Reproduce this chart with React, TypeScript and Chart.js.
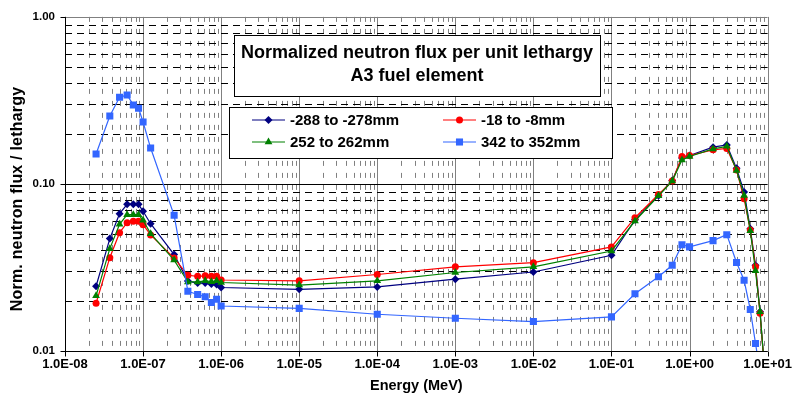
import React, { useEffect, useRef } from 'react';
import { Chart, registerables } from 'chart.js';

Chart.register(...registerables);

// Energy group points (MeV)
const energies = [
  2.5e-8, 3.75e-8, 5e-8, 6.25e-8, 7.5e-8, 8.75e-8, 1e-7, 1.25e-7, 2.5e-7, 3.75e-7,
  5e-7, 6.25e-7, 7.5e-7, 8.75e-7, 1e-6, 1e-5, 1e-4, 1e-3, 1e-2, 1e-1,
  0.2, 0.4, 0.6, 0.8, 1, 2, 3, 4, 5, 6, 7, 8, 10,
];

const fluxM288 = [
  0.0244, 0.0471, 0.0664, 0.0755, 0.0755, 0.0755, 0.0686, 0.0578, 0.0378, 0.0262,
  0.0255, 0.0255, 0.0252, 0.025, 0.024, 0.0234, 0.0242, 0.0269, 0.0297, 0.0374,
  0.061, 0.085, 0.105, 0.143, 0.148, 0.166, 0.171, 0.124, 0.0895, 0.054, 0.0326, 0.0172, 0.0045,
];

const fluxM18 = [
  0.0193, 0.0362, 0.0511, 0.0586, 0.0597, 0.0597, 0.057, 0.0495, 0.036, 0.0284,
  0.028, 0.0282, 0.028, 0.028, 0.0266, 0.0263, 0.0287, 0.0319, 0.0338, 0.042,
  0.0628, 0.0865, 0.104, 0.146, 0.148, 0.16, 0.163, 0.121, 0.0815, 0.053, 0.0319, 0.0168, 0.0045,
];

const flux252 = [
  0.0214, 0.041, 0.0573, 0.0655, 0.0655, 0.0655, 0.0606, 0.0504, 0.035, 0.0259,
  0.0259, 0.0263, 0.026, 0.0263, 0.0257, 0.0248, 0.0263, 0.0295, 0.0319, 0.0397,
  0.06, 0.085, 0.104, 0.139, 0.146, 0.162, 0.168, 0.1205, 0.0854, 0.0524, 0.0302, 0.0172, 0.0045,
];

const flux342 = [
  0.151, 0.255, 0.33, 0.341, 0.297, 0.284, 0.235, 0.164, 0.0649, 0.0228,
  0.0218, 0.0211, 0.0195, 0.0204, 0.0186, 0.018, 0.0166, 0.0157, 0.015, 0.016,
  0.022, 0.0278, 0.0326, 0.0433, 0.042, 0.0458, 0.0497, 0.0339, 0.0265, 0.0177, 0.0111, 0.0075, 0.002,
];

const seriesLabels = ['-288 to -278mm', '-18 to -8mm', '252 to 262mm', '342 to 352mm'];
const xTickLabels = [
  '1.0E-08', '1.0E-07', '1.0E-06', '1.0E-05', '1.0E-04',
  '1.0E-03', '1.0E-02', '1.0E-01', '1.0E+00', '1.0E+01',
];
const yTickLabels = ['0.01', '0.10', '1.00'];
const titleLines = ['Normalized neutron flux per unit lethargy', 'A3 fuel element'];
const xTitle = 'Energy (MeV)';
const yTitle = 'Norm. neutron flux / lethargy';

const FONT = "Arial, 'Liberation Sans', sans-serif";

type Style = { color: string; shape: string; radius: number };
const styles: Style[] = [
  { color: '#000080', shape: 'rectRot', radius: 4 },
  { color: '#FF0000', shape: 'circle', radius: 3.5 },
  { color: '#008000', shape: 'triangle', radius: 4.5 },
  { color: '#3366FF', shape: 'rect', radius: 5 },
];

function drawMarker(ctx: CanvasRenderingContext2D, shape: string, x: number, y: number, r: number, color: string) {
  ctx.save();
  ctx.fillStyle = color;
  ctx.beginPath();
  if (shape === 'circle') {
    ctx.arc(x, y, r, 0, Math.PI * 2);
  } else if (shape === 'rectRot') {
    ctx.moveTo(x, y - r);
    ctx.lineTo(x + r, y);
    ctx.lineTo(x, y + r);
    ctx.lineTo(x - r, y);
    ctx.closePath();
  } else if (shape === 'triangle') {
    const h = r * 1.5;
    const w = r * Math.sqrt(3);
    ctx.moveTo(x, y - r);
    ctx.lineTo(x + w / 2, y - r + h);
    ctx.lineTo(x - w / 2, y - r + h);
    ctx.closePath();
  } else {
    const s = r * Math.SQRT1_2;
    ctx.rect(x - s, y - s, 2 * s, 2 * s);
  }
  ctx.fill();
  ctx.restore();
}

const decorPlugin = {
  id: 'decor',
  beforeDatasetsDraw(chart: any) {
    const { ctx, chartArea: a, scales } = chart;
    const xs = scales.x;
    const ys = scales.y;
    ctx.save();
    ctx.lineWidth = 1;
    // vertical grid
    for (let e = -8; e <= 1; e++) {
      for (let m = 1; m <= 9; m++) {
        const v = m * Math.pow(10, e);
        if (v > 10.0001) break;
        const px = Math.round(xs.getPixelForValue(v)) + 0.5;
        ctx.beginPath();
        ctx.strokeStyle = '#808080';
        ctx.setLineDash(m === 1 ? [] : [5, 7]);
        ctx.moveTo(px, a.top);
        ctx.lineTo(px, a.bottom);
        ctx.stroke();
      }
    }
    // horizontal grid
    for (let e = -2; e <= 0; e++) {
      for (let m = 1; m <= 9; m++) {
        const v = m * Math.pow(10, e);
        if (v > 1.0001) break;
        const py = Math.round(ys.getPixelForValue(v)) + 0.5;
        ctx.beginPath();
        if (m === 1) {
          ctx.setLineDash([]);
          ctx.strokeStyle = e === 0 ? '#808080' : '#000000';
        } else {
          ctx.setLineDash([7, 5]);
          ctx.strokeStyle = '#000000';
        }
        ctx.moveTo(a.left, py);
        ctx.lineTo(a.right, py);
        ctx.stroke();
      }
    }
    // axes lines and ticks
    ctx.setLineDash([]);
    ctx.strokeStyle = '#000000';
    ctx.beginPath();
    const lx = Math.round(a.left) + 0.5;
    const by = Math.round(a.bottom) + 0.5;
    ctx.moveTo(lx, a.top);
    ctx.lineTo(lx, by);
    ctx.lineTo(a.right, by);
    for (let e = -2; e <= 0; e++) {
      const py = Math.round(ys.getPixelForValue(Math.pow(10, e))) + 0.5;
      ctx.moveTo(lx - 5, py);
      ctx.lineTo(lx, py);
    }
    for (let e = -8; e <= 1; e++) {
      const px = Math.round(xs.getPixelForValue(Math.pow(10, e))) + 0.5;
      ctx.moveTo(px, by);
      ctx.lineTo(px, by + 5);
    }
    ctx.stroke();
    ctx.restore();
  },
  afterDatasetsDraw(chart: any) {
    const { ctx, chartArea: a } = chart;
    ctx.save();
    // title box
    ctx.fillStyle = '#ffffff';
    ctx.strokeStyle = '#000000';
    ctx.lineWidth = 1;
    ctx.fillRect(234, 35, 366, 61);
    ctx.strokeRect(234.5, 35.5, 366, 61);
    ctx.fillStyle = '#000000';
    ctx.font = `bold 18px ${FONT}`;
    ctx.textAlign = 'center';
    ctx.textBaseline = 'middle';
    ctx.fillText(titleLines[0], 417, 53);
    ctx.fillText(titleLines[1], 417, 76);

    // legend box
    ctx.fillStyle = '#ffffff';
    ctx.fillRect(229, 107, 383, 51);
    ctx.strokeRect(229.5, 107.5, 383, 51);
    const pos = [
      [252, 120],
      [443, 120],
      [252, 142],
      [443, 142],
    ];
    ctx.font = `bold 15px ${FONT}`;
    ctx.textAlign = 'left';
    ctx.textBaseline = 'middle';
    for (let i = 0; i < 4; i++) {
      const [lx, ly] = pos[i];
      const st = styles[i];
      ctx.strokeStyle = st.color;
      ctx.lineWidth = 1.2;
      ctx.beginPath();
      ctx.moveTo(lx, ly);
      ctx.lineTo(lx + 33, ly);
      ctx.stroke();
      drawMarker(ctx, st.shape, lx + 16.5, ly, st.radius, st.color);
      ctx.fillStyle = '#000000';
      ctx.fillText(seriesLabels[i], lx + 38, ly + 1);
    }

    // axis titles
    ctx.fillStyle = '#000000';
    ctx.font = `bold 14.5px ${FONT}`;
    ctx.textAlign = 'center';
    ctx.textBaseline = 'middle';
    ctx.fillText(xTitle, (a.left + a.right) / 2, 386);
    ctx.save();
    ctx.translate(18, 199);
    ctx.rotate(-Math.PI / 2);
    ctx.font = `bold 16px ${FONT}`;
    (ctx as any).letterSpacing = '0.2px';
    ctx.fillText(yTitle, 0, 0);
    ctx.restore();
    ctx.restore();
  },
};

export default function App() {
  const ref = useRef<HTMLCanvasElement | null>(null);
  useEffect(() => {
    if (!ref.current) return;
    const series = [fluxM288, fluxM18, flux252, flux342];
    const chart = new Chart(ref.current, {
      type: 'line',
      data: {
        datasets: series.map((vals, i) => ({
          label: seriesLabels[i],
          data: energies.map((e, k) => ({ x: e, y: vals[k] })),
          borderColor: styles[i].color,
          backgroundColor: styles[i].color,
          pointBackgroundColor: styles[i].color,
          pointBorderColor: styles[i].color,
          pointStyle: styles[i].shape as any,
          pointRadius: styles[i].radius,
          pointBorderWidth: 0,
          borderWidth: 1.2,
          tension: 0,
          order: 4 - i,
        })),
      },
      options: {
        animation: false,
        responsive: false,
        maintainAspectRatio: false,
        layout: { padding: { top: 16, right: 25, left: 0, bottom: 0 } },
        plugins: { legend: { display: false }, tooltip: { enabled: false }, title: { display: false } },
        scales: {
          x: {
            type: 'logarithmic',
            min: 1e-8,
            max: 10,
            grid: { display: false, drawTicks: false },
            border: { display: false },
            afterFit: (s: any) => { s.height = 46; },
            ticks: {
              autoSkip: false,
              maxRotation: 0,
              minRotation: 0,
              padding: 6,
              color: '#000000',
              font: { family: FONT, size: 13, weight: 'bold' },
              callback: (value: any) => {
                const e = Math.log10(Number(value));
                if (Math.abs(e - Math.round(e)) < 1e-6) return xTickLabels[Math.round(e) + 8] ?? '';
                return '';
              },
            },
          },
          y: {
            type: 'logarithmic',
            min: 0.01,
            max: 1,
            grid: { display: false, drawTicks: false },
            border: { display: false },
            afterFit: (s: any) => { s.width = 65; },
            ticks: {
              autoSkip: false,
              padding: 10,
              color: '#000000',
              font: { family: FONT, size: 11.5, weight: 'bold' },
              callback: (value: any) => {
                const e = Math.log10(Number(value));
                if (Math.abs(e - Math.round(e)) < 1e-6) return yTickLabels[Math.round(e) + 2] ?? '';
                return '';
              },
            },
          },
        },
      } as any,
      plugins: [decorPlugin],
    });
    return () => chart.destroy();
  }, []);
  return (
    <div style={{ position: 'absolute', left: 0, top: 0, width: 798, height: 397, background: '#fff' }}>
      <canvas ref={ref} width={798} height={397} style={{ display: 'block', width: 798, height: 397 }} />
    </div>
  );
}
